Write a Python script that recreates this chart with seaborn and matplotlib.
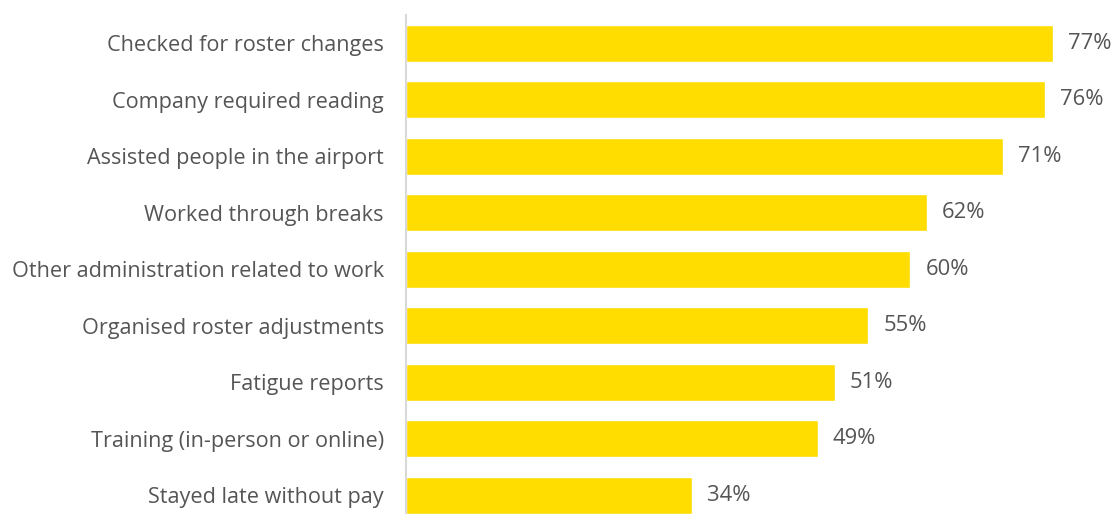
import matplotlib
matplotlib.use("Agg")
import matplotlib.pyplot as plt
import seaborn as sns
import pandas as pd

categories = [
    "Checked for roster changes",
    "Company required reading",
    "Assisted people in the airport",
    "Worked through breaks",
    "Other administration related to work",
    "Organised roster adjustments",
    "Fatigue reports",
    "Training (in-person or online)",
    "Stayed late without pay",
]
percentages = [77, 76, 71, 62, 60, 55, 51, 49, 34]

df = pd.DataFrame({"activity": categories, "pct": percentages})

sns.set_theme(style="white")
plt.rcParams["font.family"] = ["Open Sans", "DejaVu Sans"]

text_color = "#555555"
bar_color = "#FFDD00"

fig = plt.figure(figsize=(11.16, 5.14), dpi=100)
ax = fig.add_axes([406 / 1116, 0.0, 1 - 406 / 1116, 1 - 15 / 514])

sns.barplot(data=df, x="pct", y="activity", color=bar_color, width=0.655,
            saturation=1, ax=ax, orient="h")

for patch, val in zip(ax.patches, percentages):
    ax.annotate(f"{val}%", xy=(patch.get_width(), patch.get_y() + patch.get_height() / 2),
                xytext=(11, 0), textcoords="offset points", ha="left", va="center",
                fontsize=15.8, color=text_color)

ax.set_xlim(0, 84.5)
ax.set_ylim(8.336, -0.496)
ax.set_xlabel("")
ax.set_ylabel("")
ax.set_xticks([])
ax.tick_params(axis="y", length=0, pad=16, labelsize=15.6, labelcolor=text_color)

for side in ["top", "right", "bottom"]:
    ax.spines[side].set_visible(False)
ax.spines["left"].set_color("#D9D9D9")
ax.spines["left"].set_linewidth(1.5)

fig.savefig("out.png", dpi=100)
